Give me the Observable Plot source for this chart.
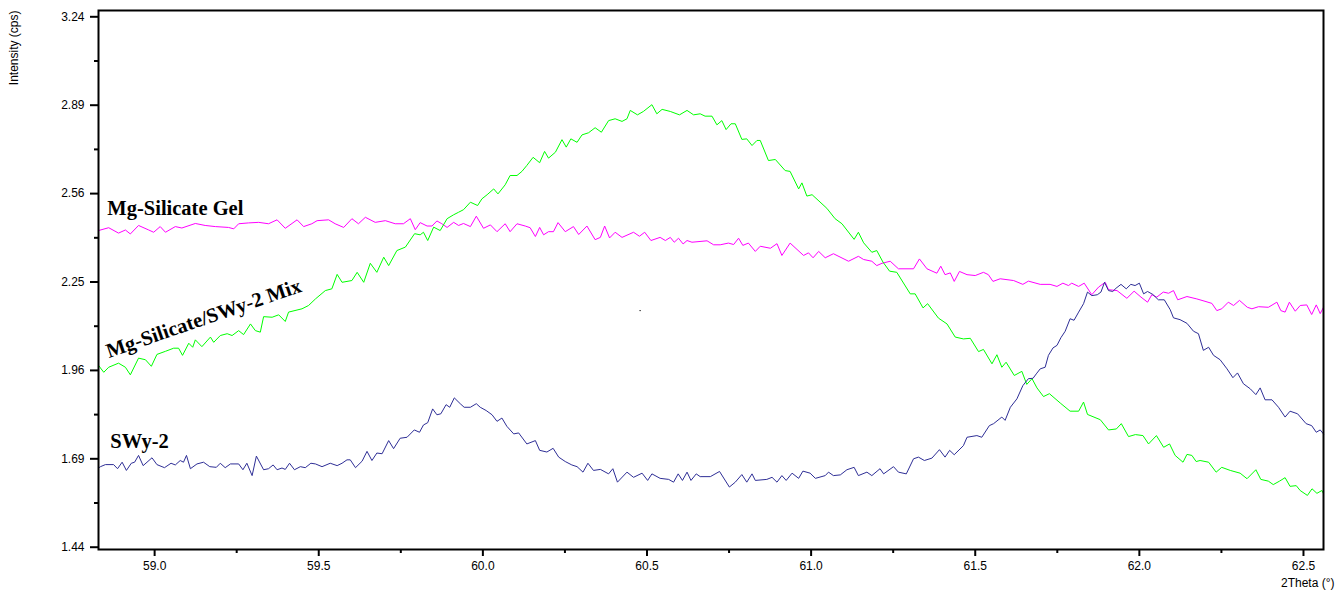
<!DOCTYPE html>
<html><head><meta charset="utf-8">
<script src="https://cdn.jsdelivr.net/npm/d3@7"></script>
<script src="https://cdn.jsdelivr.net/npm/@observablehq/plot@0.6"></script>
<style>html,body{margin:0;padding:0;background:#fff;overflow:hidden}</style>
</head><body><div id="chart"></div>
<script>
// [2Theta (deg), Intensity (cps)]
const gelScan = [[58.829,2.428],[58.860,2.438],[58.890,2.419],[58.911,2.430],[58.926,2.416],[58.951,2.446],[58.982,2.430],[58.997,2.422],[59.017,2.442],[59.033,2.422],
[59.063,2.442],[59.083,2.437],[59.124,2.453],[59.154,2.446],[59.185,2.442],[59.225,2.439],[59.241,2.434],[59.256,2.452],[59.286,2.455],[59.317,2.457],
[59.347,2.452],[59.373,2.466],[59.398,2.436],[59.434,2.466],[59.454,2.442],[59.479,2.452],[59.495,2.463],[59.530,2.466],[59.550,2.452],[59.576,2.439],
[59.601,2.470],[59.621,2.452],[59.642,2.475],[59.672,2.457],[59.703,2.463],[59.733,2.452],[59.758,2.452],[59.779,2.470],[59.794,2.431],[59.809,2.456],
[59.830,2.444],[59.845,2.444],[59.860,2.462],[59.875,2.452],[59.891,2.439],[59.911,2.457],[59.926,2.446],[59.941,2.453],[59.962,2.442],[59.980,2.479],
[60.002,2.436],[60.023,2.448],[60.043,2.424],[60.068,2.452],[60.083,2.424],[60.104,2.452],[60.129,2.444],[60.144,2.438],[60.160,2.407],[60.173,2.439],
[60.185,2.413],[60.200,2.424],[60.215,2.424],[60.229,2.456],[60.251,2.424],[60.276,2.442],[60.292,2.414],[60.317,2.444],[60.342,2.396],[60.358,2.404],
[60.371,2.444],[60.386,2.402],[60.403,2.422],[60.424,2.404],[60.459,2.422],[60.477,2.408],[60.493,2.422],[60.512,2.393],[60.540,2.404],[60.556,2.393],
[60.571,2.404],[60.583,2.387],[60.596,2.401],[60.610,2.381],[60.622,2.393],[60.637,2.387],[60.683,2.392],[60.703,2.378],[60.723,2.378],[60.748,2.384],
[60.764,2.379],[60.779,2.401],[60.792,2.376],[60.809,2.384],[60.830,2.355],[60.845,2.373],[60.876,2.366],[60.896,2.382],[60.911,2.341],[60.936,2.384],
[60.977,2.341],[60.992,2.350],[61.006,2.333],[61.023,2.355],[61.043,2.333],[61.068,2.347],[61.114,2.321],[61.144,2.338],[61.160,2.327],[61.185,2.321],
[61.200,2.306],[61.216,2.314],[61.241,2.321],[61.266,2.295],[61.312,2.295],[61.330,2.329],[61.353,2.295],[61.383,2.280],[61.395,2.304],[61.408,2.275],
[61.424,2.281],[61.436,2.252],[61.452,2.286],[61.475,2.275],[61.500,2.272],[61.525,2.283],[61.540,2.275],[61.554,2.252],[61.576,2.261],[61.617,2.255],
[61.645,2.242],[61.662,2.253],[61.698,2.242],[61.728,2.242],[61.749,2.235],[61.767,2.246],[61.784,2.238],[61.794,2.246],[61.815,2.235],[61.832,2.246],
[61.855,2.207],[61.876,2.233],[61.896,2.249],[61.906,2.224],[61.932,2.221],[61.962,2.195],[61.984,2.219],[62.005,2.199],[62.025,2.182],[62.038,2.207],
[62.053,2.199],[62.073,2.216],[62.089,2.212],[62.104,2.221],[62.117,2.190],[62.145,2.201],[62.175,2.193],[62.200,2.185],[62.221,2.178],[62.236,2.154],
[62.251,2.160],[62.271,2.182],[62.287,2.171],[62.305,2.188],[62.329,2.165],[62.343,2.160],[62.363,2.167],[62.393,2.165],[62.419,2.182],[62.431,2.154],
[62.444,2.149],[62.457,2.182],[62.475,2.152],[62.490,2.171],[62.510,2.173],[62.525,2.141],[62.539,2.173],[62.551,2.144],[62.561,2.165]];

const mixScan = [[58.829,1.976],[58.845,1.954],[58.860,1.970],[58.890,1.983],[58.911,1.970],[58.926,1.946],[58.951,1.999],[58.972,1.994],[58.990,1.973],[59.007,2.011],
[59.033,2.021],[59.058,2.031],[59.073,2.031],[59.085,2.008],[59.104,2.047],[59.116,2.034],[59.124,2.058],[59.144,2.036],[59.170,2.067],[59.180,2.050],
[59.200,2.072],[59.221,2.078],[59.236,2.072],[59.256,2.088],[59.271,2.075],[59.292,2.110],[59.307,2.088],[59.322,2.083],[59.332,2.134],[59.358,2.132],
[59.378,2.140],[59.398,2.118],[59.408,2.149],[59.449,2.160],[59.469,2.171],[59.490,2.193],[59.520,2.221],[59.540,2.227],[59.556,2.276],[59.571,2.249],
[59.601,2.255],[59.617,2.283],[59.637,2.249],[59.657,2.314],[59.677,2.283],[59.698,2.335],[59.713,2.306],[59.738,2.358],[59.764,2.370],[59.792,2.417],
[59.809,2.413],[59.819,2.422],[59.832,2.393],[59.850,2.440],[59.870,2.428],[59.891,2.470],[59.911,2.484],[59.926,2.493],[59.941,2.502],[59.962,2.529],
[59.984,2.517],[59.997,2.541],[60.013,2.556],[60.033,2.577],[60.046,2.559],[60.068,2.592],[60.083,2.626],[60.104,2.626],[60.119,2.641],[60.134,2.663],
[60.153,2.693],[60.173,2.673],[60.188,2.715],[60.200,2.690],[60.221,2.712],[60.241,2.759],[60.254,2.731],[60.268,2.762],[60.287,2.749],[60.302,2.777],
[60.322,2.785],[60.342,2.804],[60.361,2.787],[60.383,2.831],[60.403,2.838],[60.424,2.828],[60.439,2.838],[60.449,2.870],[60.471,2.853],[60.489,2.866],
[60.515,2.892],[60.530,2.857],[60.546,2.874],[60.571,2.866],[60.599,2.853],[60.622,2.870],[60.642,2.853],[60.662,2.857],[60.677,2.848],[60.698,2.848],
[60.713,2.815],[60.728,2.831],[60.741,2.797],[60.756,2.819],[60.769,2.819],[60.789,2.760],[60.804,2.762],[60.820,2.737],[60.835,2.756],[60.845,2.756],
[60.870,2.681],[60.891,2.685],[60.921,2.644],[60.936,2.641],[60.962,2.577],[60.972,2.599],[60.987,2.551],[61.003,2.556],[61.048,2.507],[61.073,2.470],
[61.094,2.452],[61.131,2.397],[61.144,2.422],[61.160,2.385],[61.185,2.352],[61.200,2.358],[61.219,2.318],[61.239,2.287],[61.261,2.283],[61.302,2.210],
[61.317,2.210],[61.341,2.163],[61.355,2.177],[61.388,2.129],[61.414,2.110],[61.439,2.067],[61.464,2.061],[61.485,2.063],[61.510,2.020],[61.525,2.027],
[61.551,1.981],[61.566,2.010],[61.581,1.970],[61.594,1.986],[61.619,1.944],[61.642,1.957],[61.657,1.916],[61.673,1.934],[61.688,1.905],[61.708,1.878],
[61.726,1.887],[61.759,1.858],[61.789,1.833],[61.815,1.833],[61.830,1.861],[61.842,1.823],[61.881,1.807],[61.906,1.776],[61.930,1.779],[61.945,1.795],
[61.967,1.756],[61.988,1.762],[62.011,1.759],[62.028,1.734],[62.052,1.759],[62.074,1.724],[62.092,1.734],[62.109,1.700],[62.133,1.680],[62.145,1.703],
[62.160,1.700],[62.173,1.682],[62.185,1.685],[62.211,1.680],[62.234,1.651],[62.251,1.665],[62.277,1.656],[62.307,1.648],[62.328,1.632],[62.355,1.658],
[62.370,1.630],[62.393,1.625],[62.408,1.615],[62.427,1.625],[62.444,1.635],[62.459,1.610],[62.478,1.612],[62.490,1.598],[62.512,1.584],[62.526,1.603],
[62.541,1.590],[62.556,1.598],[62.561,1.589]];

const swyScan = [[58.829,1.663],[58.835,1.667],[58.850,1.673],[58.875,1.673],[58.887,1.661],[58.901,1.680],[58.914,1.656],[58.929,1.677],[58.939,1.680],[58.951,1.700],
[58.965,1.670],[58.992,1.693],[59.007,1.673],[59.030,1.664],[59.050,1.677],[59.063,1.672],[59.078,1.685],[59.088,1.680],[59.097,1.700],[59.109,1.661],
[59.129,1.675],[59.149,1.680],[59.168,1.667],[59.188,1.665],[59.200,1.677],[59.215,1.664],[59.231,1.675],[59.256,1.675],[59.269,1.658],[59.281,1.677],
[59.297,1.641],[59.310,1.698],[59.332,1.658],[59.347,1.661],[59.361,1.672],[59.373,1.658],[59.388,1.663],[59.398,1.659],[59.411,1.677],[59.426,1.658],
[59.444,1.667],[59.459,1.664],[59.476,1.677],[59.490,1.675],[59.510,1.667],[59.535,1.677],[59.556,1.670],[59.571,1.677],[59.586,1.687],[59.596,1.687],
[59.612,1.664],[59.632,1.683],[59.647,1.712],[59.662,1.685],[59.677,1.707],[59.693,1.705],[59.713,1.744],[59.728,1.720],[59.748,1.751],[59.769,1.754],
[59.791,1.776],[59.807,1.769],[59.819,1.791],[59.832,1.798],[59.847,1.840],[59.860,1.822],[59.872,1.825],[59.888,1.853],[59.899,1.845],[59.913,1.874],
[59.931,1.856],[59.943,1.845],[59.962,1.845],[59.980,1.856],[59.992,1.845],[60.010,1.835],[60.028,1.822],[60.043,1.802],[60.058,1.812],[60.073,1.787],
[60.094,1.764],[60.109,1.767],[60.134,1.734],[60.160,1.744],[60.173,1.715],[60.195,1.710],[60.214,1.721],[60.231,1.695],[60.251,1.682],[60.271,1.672],
[60.287,1.667],[60.305,1.651],[60.320,1.677],[60.337,1.656],[60.358,1.659],[60.383,1.646],[60.396,1.661],[60.410,1.622],[60.439,1.651],[60.459,1.636],
[60.485,1.648],[60.502,1.627],[60.515,1.646],[60.540,1.633],[60.566,1.630],[60.581,1.622],[60.595,1.646],[60.608,1.627],[60.622,1.651],[60.634,1.627],
[60.650,1.646],[60.662,1.638],[60.693,1.638],[60.721,1.653],[60.751,1.608],[60.769,1.622],[60.789,1.644],[60.804,1.622],[60.820,1.646],[60.830,1.627],
[60.865,1.630],[60.881,1.636],[60.896,1.622],[60.911,1.641],[60.924,1.627],[60.942,1.648],[60.962,1.633],[60.975,1.654],[60.997,1.648],[61.013,1.633],
[61.043,1.641],[61.053,1.651],[61.068,1.641],[61.089,1.643],[61.109,1.658],[61.131,1.665],[61.144,1.641],[61.170,1.651],[61.185,1.641],[61.210,1.661],
[61.221,1.646],[61.251,1.667],[61.266,1.651],[61.290,1.646],[61.312,1.690],[61.327,1.695],[61.345,1.685],[61.368,1.692],[61.391,1.717],[61.408,1.695],
[61.422,1.715],[61.436,1.702],[61.464,1.729],[61.475,1.754],[61.505,1.759],[61.520,1.754],[61.543,1.789],[61.556,1.795],[61.581,1.815],[61.591,1.805],
[61.607,1.845],[61.627,1.871],[61.645,1.912],[61.662,1.934],[61.676,1.935],[61.686,1.949],[61.698,1.965],[61.713,1.970],[61.723,2.008],[61.737,2.032],
[61.749,2.040],[61.761,2.065],[61.774,2.086],[61.789,2.127],[61.801,2.122],[61.815,2.149],[61.830,2.177],[61.842,2.216],[61.855,2.204],[61.872,2.207],
[61.883,2.216],[61.894,2.249],[61.906,2.221],[61.919,2.218],[61.929,2.229],[61.944,2.242],[61.960,2.227],[61.974,2.242],[61.987,2.238],[62.000,2.246],
[62.013,2.210],[62.025,2.218],[62.041,2.208],[62.058,2.190],[62.076,2.190],[62.094,2.157],[62.104,2.130],[62.124,2.124],[62.145,2.112],[62.165,2.086],
[62.180,2.078],[62.195,2.024],[62.211,2.034],[62.226,2.008],[62.246,1.994],[62.267,1.965],[62.285,1.937],[62.299,1.952],[62.317,1.918],[62.338,1.902],
[62.355,1.884],[62.368,1.905],[62.383,1.868],[62.404,1.868],[62.424,1.845],[62.444,1.815],[62.459,1.833],[62.482,1.825],[62.508,1.795],[62.525,1.789],
[62.539,1.769],[62.551,1.776],[62.561,1.764]];

const seriesNames = ["Mg-Silicate Gel", "Mg-Silicate/SWy-2 Mix", "SWy-2"];
const seriesColors = ["#ff00ff", "#00ff00", "#2e2e96"];
const labelTheta = [58.856, 58.861, 58.865];
const labelIntensity = [2.483, 1.9995, 1.7234];
const labelAngle = [0, -19, 0];
const xMajorTicks = [59.0, 59.5, 60.0, 60.5, 61.0, 61.5, 62.0, 62.5];
const xMinorTicks = [59.25, 59.75, 60.25, 60.75, 61.25, 61.75, 62.25];
const yMajorTicks = [1.44, 1.69, 1.96, 2.25, 2.56, 2.89, 3.24];
const yMinorTicks = [1.5625, 1.8225, 2.1025, 2.4025, 2.7225, 3.0625];
const xDomain = [58.829, 62.561];
const yDomain = [1.4338, 3.2657];
const xTitle = "2Theta (°)";
const yTitle = "Intensity (cps)";
const strayPoint = [[60.479, 2.154]];

const rows = [];
[gelScan, mixScan, swyScan].forEach((scan, i) =>
  scan.forEach(([t, v]) => rows.push({series: seriesNames[i], theta: t, intensity: v})));
const labels = seriesNames.map((name, i) => ({name, theta: labelTheta[i], intensity: labelIntensity[i], angle: labelAngle[i]}));
const serif = "'Liberation Serif','Times New Roman',Times,serif";

const chart = Plot.plot({
  width: 1341, height: 595,
  marginLeft: 98, marginRight: 18, marginTop: 10, marginBottom: 46,
  style: {fontFamily: "'Liberation Sans', Arial, sans-serif", fontSize: "12px", background: "#fff", color: "#000"},
  x: {domain: xDomain, axis: null},
  y: {type: "sqrt", domain: yDomain, axis: null},
  color: {domain: seriesNames, range: seriesColors},
  marks: [
    Plot.line(rows, {x: "theta", y: "intensity", z: "series", stroke: "series", strokeWidth: 1}),
    Plot.dot(strayPoint, {x: d => d[0], y: d => d[1], r: 0.7, fill: "#000", stroke: null}),
    Plot.text(labels.filter(d => d.angle === 0), {x: "theta", y: "intensity", text: "name", textAnchor: "start", lineAnchor: "bottom", fontFamily: serif, fontWeight: "bold", fontSize: 20.5, fill: "#000"}),
    Plot.text(labels.filter(d => d.angle !== 0), {x: "theta", y: "intensity", text: "name", rotate: -19, textAnchor: "start", lineAnchor: "bottom", fontFamily: serif, fontWeight: "bold", fontSize: 20.5, fill: "#000"}),
    Plot.frame({stroke: "#000", strokeWidth: 2}),
    Plot.axisX({ticks: xMajorTicks, tickSize: 7, tickPadding: 5, tickFormat: ".1f", strokeWidth: 2, label: null, fill: "#000"}),
    Plot.axisX({ticks: xMinorTicks, tickSize: 4, tickFormat: () => "", strokeWidth: 2, label: null}),
    Plot.axisY({ticks: yMajorTicks, tickSize: 8, tickPadding: 6, tickFormat: ".2f", strokeWidth: 2, label: null, fill: "#000"}),
    Plot.axisY({ticks: yMinorTicks, tickSize: 4, tickFormat: () => "", strokeWidth: 2, label: null}),
    Plot.text([yTitle], {text: d => d, frameAnchor: "top-left", dx: -84.5, dy: 0, rotate: -90, textAnchor: "end", lineAnchor: "middle", fontSize: 12, fill: "#000"}),
    Plot.text([xTitle], {text: d => d, frameAnchor: "bottom-right", dx: 11, dy: 33.5, textAnchor: "end", lineAnchor: "middle", fontSize: 12, fill: "#000"})
  ]
});
document.getElementById("chart").appendChild(chart);
</script>
</body></html>
